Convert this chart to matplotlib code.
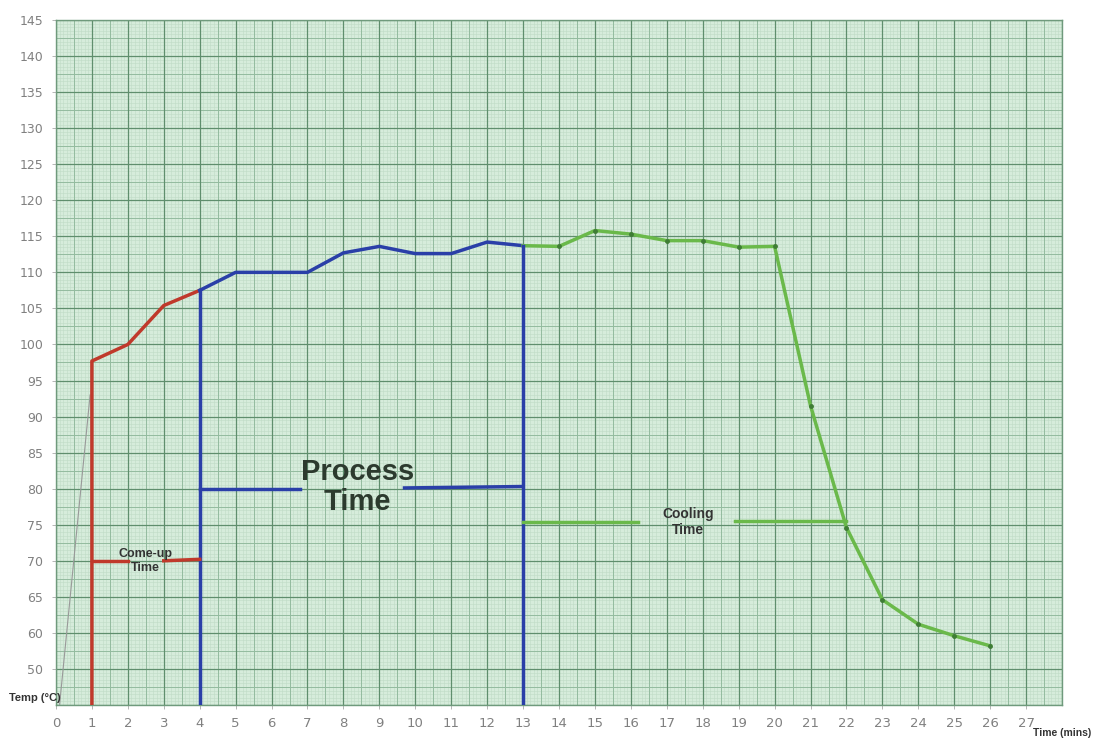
import numpy as np
import matplotlib.pyplot as plt

come_up_x = [1, 1, 2, 3, 4]
come_up_y = [50, 97.7, 100, 105.4, 107.5]

process_x = [4, 5, 6, 7, 8, 9, 10, 11, 12, 13]
process_y = [107.5, 110, 110, 110, 112.7, 113.6, 112.6, 112.6, 114.2, 113.7]

cooling_x = [13, 14, 15, 16, 17, 18, 19, 20, 21, 22, 23, 24, 25, 26]
cooling_y = [113.7, 113.6, 115.8, 115.3, 114.4, 114.4, 113.5, 113.6, 91.5, 74.6, 64.6, 61.2, 59.6, 58.2]

x_ticks = list(range(0, 28))
y_ticks = [145, 140, 135, 130, 125, 120, 115, 110, 105, 100, 95, 90, 85, 80, 75, 70, 65, 60, 55]
y_labels = ["145", "140", "135", "130", "125", "120", "115", "110", "105", "100",
            "95", "90", "85", "80", "75", "70", "65", "60", "50"]

RED = "#c0392b"
BLUE = "#2a3fa8"
GREEN = "#6ab94a"

fig = plt.figure(figsize=(10.93, 7.40), dpi=100)
ax = fig.add_axes([0.0512, 0.0473, 0.9205, 0.9257])
ax.set_xlim(0, 28)
ax.set_ylim(50, 145)
ax.set_facecolor("#d6ecdb")

# graph paper: 1 cm major, 5 mm medium, 1 mm fine
def paper_style(r):
    if r % 10 == 0:
        return "#5f8e6d", 0.9, 1.2
    if r % 5 == 0:
        return "#93bb9f", 0.7, 1.1
    return "#bfdbc6", 0.4, 1.0

for xv in np.arange(0, 28.01, 0.1):
    c, lw, z = paper_style(round(xv * 10))
    ax.axvline(xv, color=c, lw=lw, zorder=z)
for yv in np.arange(50, 145.01, 0.5):
    c, lw, z = paper_style(round(yv * 2))
    ax.axhline(yv, color=c, lw=lw, zorder=z)

for s in ax.spines.values():
    s.set_color("#6f9a7c")
    s.set_linewidth(1.0)

ax.set_xticks(x_ticks)
ax.set_xticklabels([str(v) for v in x_ticks], color="#808080", fontsize=9.5)
ax.set_yticks(y_ticks)
ax.set_yticklabels(y_labels, color="#808080", fontsize=9)
ax.tick_params(length=3, width=0.6, color="#aaaaaa", pad=6)

# faint start line
ax.plot([0.1, 0.95], [50, 93], color="#999999", lw=0.8, zorder=3)

# curves
ax.plot(come_up_x, come_up_y, color=RED, lw=2.5, zorder=4)
ax.plot(process_x, process_y, color=BLUE, lw=2.5, zorder=4)
ax.plot(cooling_x, cooling_y, color=GREEN, lw=2.5, zorder=4)
ax.plot(cooling_x[1:], cooling_y[1:], "o", color="#3f7d35", ms=2.5, zorder=5)

# phase markers
ax.plot([4, 4], [50, process_y[0]], color=BLUE, lw=2.5, zorder=4)
ax.plot([13, 13], [50, process_y[-1]], color=BLUE, lw=2.5, zorder=4)

ax.plot([1, 2.0], [70, 70], color=RED, lw=2.5, zorder=4)
ax.plot([3.0, 4], [70, 70.2], color=RED, lw=2.5, zorder=4)
ax.text(2.5, 70, "Come-up\nTime", ha="center", va="center", fontsize=9,
        fontweight="bold", family="Liberation Sans", color="#333333", zorder=6)

ax.plot([4, 6.8], [80, 80], color=BLUE, lw=2.5, zorder=4)
ax.plot([9.7, 13], [80.1, 80.3], color=BLUE, lw=2.5, zorder=4)
ax.text(8.4, 80.2, "Process\nTime", ha="center", va="center", fontsize=21,
        fontweight="bold", family="Liberation Sans", color="#2c3a2e",
        linespacing=1.1, zorder=6)

ax.plot([13, 16.2], [75.4, 75.4], color=GREEN, lw=2.5, zorder=4)
ax.plot([18.9, 22], [75.5, 75.5], color=GREEN, lw=2.5, zorder=4)
ax.text(17.6, 75.4, "Cooling\nTime", ha="center", va="center", fontsize=10,
        fontweight="bold", family="Liberation Sans", color="#333333", zorder=6)

fig.text(0.032, 0.057, "Temp (°C)", ha="center", va="center", fontsize=8,
         fontweight="bold", family="Liberation Sans", color="#333333")
fig.text(0.998, 0.009, "Time (mins)", ha="right", va="center", fontsize=7.5,
         fontweight="bold", family="Liberation Sans", color="#333333")

fig.savefig("out.png", dpi=100, facecolor="white")
